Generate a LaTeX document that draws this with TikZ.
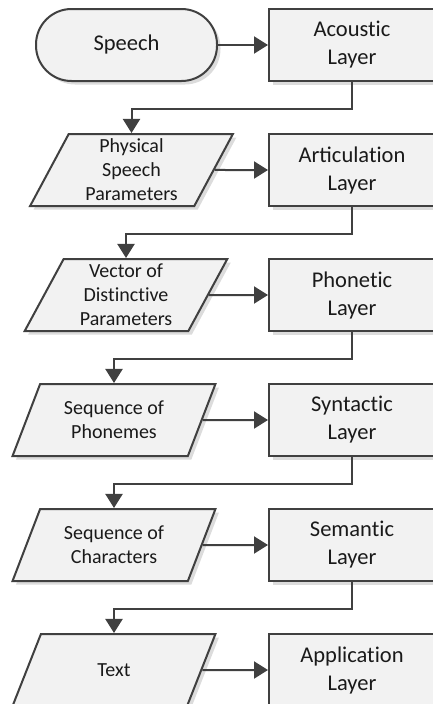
\documentclass[tikz,border=0pt]{standalone}
\usepackage{fontspec}
\setmainfont{Carlito}
\usetikzlibrary{shapes.geometric,arrows.meta,shadows}
\definecolor{edge}{HTML}{404040}
\definecolor{panel}{HTML}{F2F2F2}
\definecolor{shade}{HTML}{DCDCDC}
\definecolor{ink}{HTML}{1A1A1A}
% keep "t" and "i" as separate glyphs (Carlito joins them otherwise)
\newcommand{\ti}{t\kern0pt i}

\begin{document}
\begin{tikzpicture}[x=1pt,y=-1pt,
  base/.style={draw=edge, line width=2pt, fill=panel, text=ink, inner sep=0pt,
    minimum height=72pt, align=center,
    general shadow={fill=shade, shadow xshift=3.5pt, shadow yshift=-3.5pt}},
  layer/.style={base, rectangle, minimum width=166pt,
    font=\fontsize{22.5}{28}\selectfont},
  terminal/.style={base, rectangle, rounded corners=35.5pt, minimum width=181pt,
    font=\fontsize{22.5}{28}\selectfont},
  data/.style={base, trapezium, trapezium stretches=true,
    trapezium left angle=#1, trapezium right angle=180-#1,
    minimum width=203pt, font=\fontsize{20}{24}\selectfont},
  flow/.style={draw=edge, line width=2pt,
    -{Triangle[length=14pt,width=17pt]}}]

\useasboundingbox (0,0) rectangle (433,704);

% processing layers (right column)
\node[layer] (acoustic)     at (352,45)  {Acous\ti c\\Layer};
\node[layer] (articulation) at (352,170) {Articula\ti on\\Layer};
\node[layer] (phonetic)     at (352,295) {Phone\ti c\\Layer};
\node[layer] (syntactic)    at (352,420) {Syntac\ti c\\Layer};
\node[layer] (semantic)     at (352,545) {Seman\ti c\\Layer};
\node[layer] (application)  at (352,670) {Applica\ti on\\Layer};

% input and intermediate representations (left column)
\node[terminal] (speech) at (126.5,45) {Speech};
\node[data=65.4] (physical)  at (131.5,170) {Physical\\Speech\\Parameters};
\node[data=65]   (vector)    at (126,295)   {Vector of\\Dis\ti nc\ti ve\\Parameters};
\node[data=63.7] (phonemes)  at (114,420)   {Sequence of\\Phonemes};
\node[data=63.7] (chars)     at (114,545)   {Sequence of\\Characters};
\node[data=63.7] (text)      at (114,670)   {Text};

% each representation feeds its layer
\draw[flow] (speech.east)   -- (acoustic.west);
\draw[flow] (physical.east) -- (articulation.west);
\draw[flow] (vector.east)   -- (phonetic.west);
\draw[flow] (phonemes.east) -- (syntactic.west);
\draw[flow] (chars.east)    -- (semantic.west);
\draw[flow] (text.east)     -- (application.west);

% each layer produces the next representation
\draw[flow] (acoustic.south)     -- ++(0,26.5) -| (physical.north -| physical.center);
\draw[flow] (articulation.south) -- ++(0,26.5) -| (vector.north -| vector.center);
\draw[flow] (phonetic.south)     -- ++(0,26.5) -| (phonemes.north -| phonemes.center);
\draw[flow] (syntactic.south)    -- ++(0,26.5) -| (chars.north -| chars.center);
\draw[flow] (semantic.south)     -- ++(0,26.5) -| (text.north -| text.center);
\end{tikzpicture}
\end{document}
